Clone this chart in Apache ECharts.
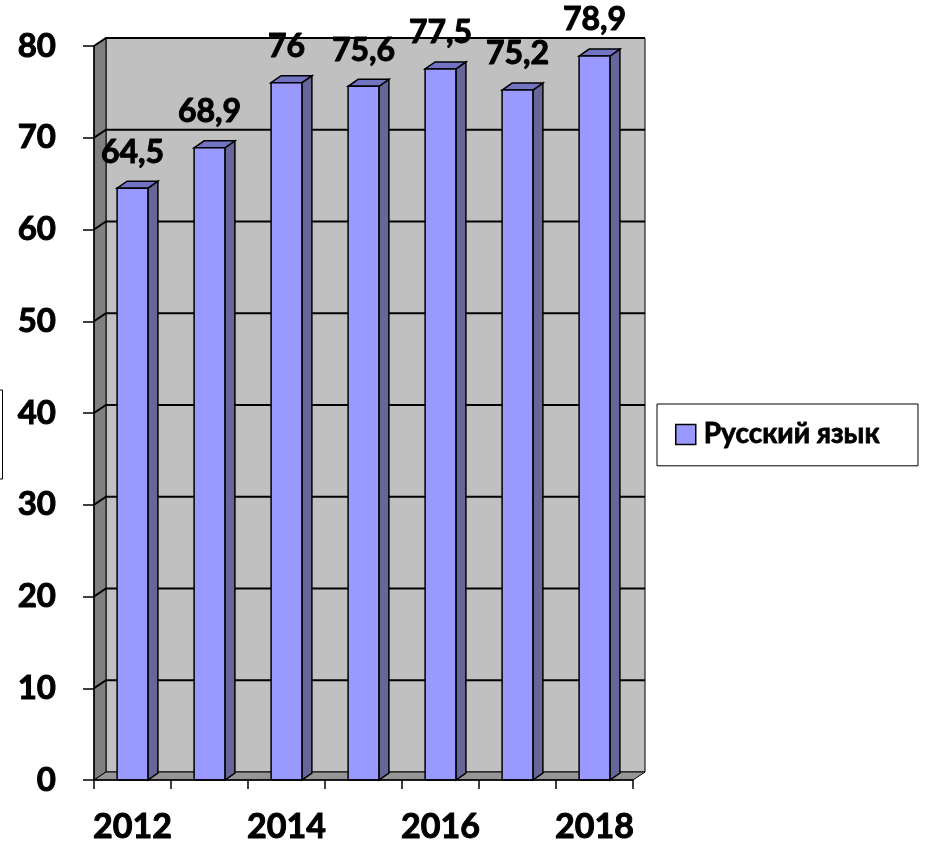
<!DOCTYPE html>
<html>
<head>
<meta charset="utf-8">
<script src="https://cdn.jsdelivr.net/npm/echarts@6/dist/echarts.min.js"></script>
<style>
  html, body { margin: 0; padding: 0; background: #fff; }
  #chart { width: 926px; height: 849px; }
</style>
</head>
<body>
<div id="chart"></div>
<script>
// данные
var years = ['2012', '2013', '2014', '2015', '2016', '2017', '2018'];
var scores = [64.5, 68.9, 76, 75.6, 77.5, 75.2, 78.9];
var yTicks = [0, 10, 20, 30, 40, 50, 60, 70, 80];
var seriesName = 'Русский язык';

var FONT = 'Lato, "Noto Sans", sans-serif';
// глубина "3D"
var WALL_DX = 12, WALL_DY = 8;
var BAR_DX = 10, BAR_DY = 7;

var chart = echarts.init(document.getElementById('chart'));

function renderWalls(params, api) {
  var bw = api.size([1, 0])[0];
  var x0 = api.coord([0, 0])[0] - bw / 2;
  var x1 = api.coord([years.length - 1, 0])[0] + bw / 2;
  var yBase = api.coord([0, 0])[1];
  var yTop = api.coord([0, yTicks[yTicks.length - 1]])[1];
  var children = [];
  // задняя стенка
  children.push({
    type: 'rect',
    shape: { x: x0 + WALL_DX, y: yTop - WALL_DY, width: x1 - x0, height: yBase - yTop },
    style: { fill: '#C0C0C0', stroke: '#000', lineWidth: 1 }
  });
  // левая стенка
  children.push({
    type: 'polygon',
    shape: { points: [[x0, yTop], [x0 + WALL_DX, yTop - WALL_DY], [x0 + WALL_DX, yBase - WALL_DY], [x0, yBase]] },
    style: { fill: '#808080', stroke: '#000', lineWidth: 1 }
  });
  // пол
  children.push({
    type: 'polygon',
    shape: { points: [[x0, yBase], [x0 + WALL_DX, yBase - WALL_DY], [x1 + WALL_DX, yBase - WALL_DY], [x1, yBase]] },
    style: { fill: '#969696', stroke: '#000', lineWidth: 1 }
  });
  // линии сетки
  yTicks.forEach(function (t) {
    if (t === 0) return;
    var y = api.coord([0, t])[1];
    children.push({
      type: 'polyline',
      shape: { points: [[x0, y], [x0 + WALL_DX, y - WALL_DY], [x1 + WALL_DX, y - WALL_DY]] },
      style: { fill: null, stroke: '#000', lineWidth: 2 }
    });
  });
  return { type: 'group', children: children };
}

function renderBar(params, api) {
  var v = api.value(1);
  var c = api.coord([api.value(0), v]);
  var base = api.coord([api.value(0), 0])[1];
  var w = api.size([1, 0])[0] * 0.4;
  var x = c[0] - w / 2, y = c[1];
  var lbl = String(v).replace('.', ',');
  return {
    type: 'group',
    children: [
      {
        type: 'polygon',
        shape: { points: [[x + w, y], [x + w + BAR_DX, y - BAR_DY], [x + w + BAR_DX, base - BAR_DY], [x + w, base]] },
        style: { fill: '#666699', stroke: '#000', lineWidth: 1.5 }
      },
      {
        type: 'polygon',
        shape: { points: [[x, y], [x + BAR_DX, y - BAR_DY], [x + w + BAR_DX, y - BAR_DY], [x + w, y]] },
        style: { fill: '#7373C4', stroke: '#000', lineWidth: 1.5 }
      },
      {
        type: 'rect',
        shape: { x: x, y: y, width: w, height: base - y },
        style: { fill: '#9999FF', stroke: '#000', lineWidth: 1.5 }
      },
      {
        type: 'text',
        style: {
          text: lbl, x: c[0], y: y - 20,
          align: 'center', verticalAlign: 'bottom',
          font: 'bold 32px ' + FONT, fill: '#000',
          stroke: '#000', lineWidth: 1
        }
      }
    ]
  };
}

var option = {
  animation: false,
  backgroundColor: '#fff',
  grid: { left: 94, right: 293, top: 46, bottom: 69 },
  legend: {
    data: [seriesName],
    left: 657, top: 404,
    padding: [16, 38, 17, 18],
    borderColor: '#000', borderWidth: 1,
    itemWidth: 20, itemHeight: 20, itemGap: 6,
    icon: 'rect',
    itemStyle: { color: '#9999FF', borderColor: '#000', borderWidth: 1.5 },
    textStyle: {
      fontFamily: FONT, fontWeight: 'bold', fontSize: 28, color: '#000',
      textBorderColor: '#000', textBorderWidth: 0.8, padding: [0, 0, 0, 3]
    }
  },
  xAxis: {
    type: 'category',
    data: years,
    z: 5,
    axisLine: { lineStyle: { color: '#000', width: 1.5 } },
    axisTick: { show: true, length: 9, interval: 0, lineStyle: { color: '#000', width: 1.5 } },
    axisLabel: {
      interval: 1, margin: 30, fontFamily: FONT, fontWeight: 'bold', fontSize: 34, color: '#000',
      textBorderColor: '#000', textBorderWidth: 1
    },
    splitLine: { show: false }
  },
  yAxis: {
    type: 'value',
    min: 0, max: 80, interval: 10,
    z: 5,
    axisLine: { show: true, lineStyle: { color: '#000', width: 1.5 } },
    axisTick: { show: true, length: 11, lineStyle: { color: '#000', width: 1.5 } },
    axisLabel: {
      margin: 38, fontFamily: FONT, fontWeight: 'bold', fontSize: 33, color: '#000',
      textBorderColor: '#000', textBorderWidth: 1
    },
    splitLine: { show: false }
  },
  graphic: [
    {
      type: 'rect',
      shape: { x: -30, y: 390, width: 32.5, height: 89 },
      style: { fill: null, stroke: '#000', lineWidth: 1 }
    }
  ],
  series: [
    {
      type: 'custom',
      silent: true,
      z: 1,
      data: [[0, 0]],
      renderItem: renderWalls,
      tooltip: { show: false }
    },
    {
      name: seriesName,
      type: 'custom',
      z: 3,
      color: '#9999FF',
      data: years.map(function (y, i) { return [i, scores[i]]; }),
      renderItem: renderBar
    }
  ]
};

chart.setOption(option);
</script>
</body>
</html>
